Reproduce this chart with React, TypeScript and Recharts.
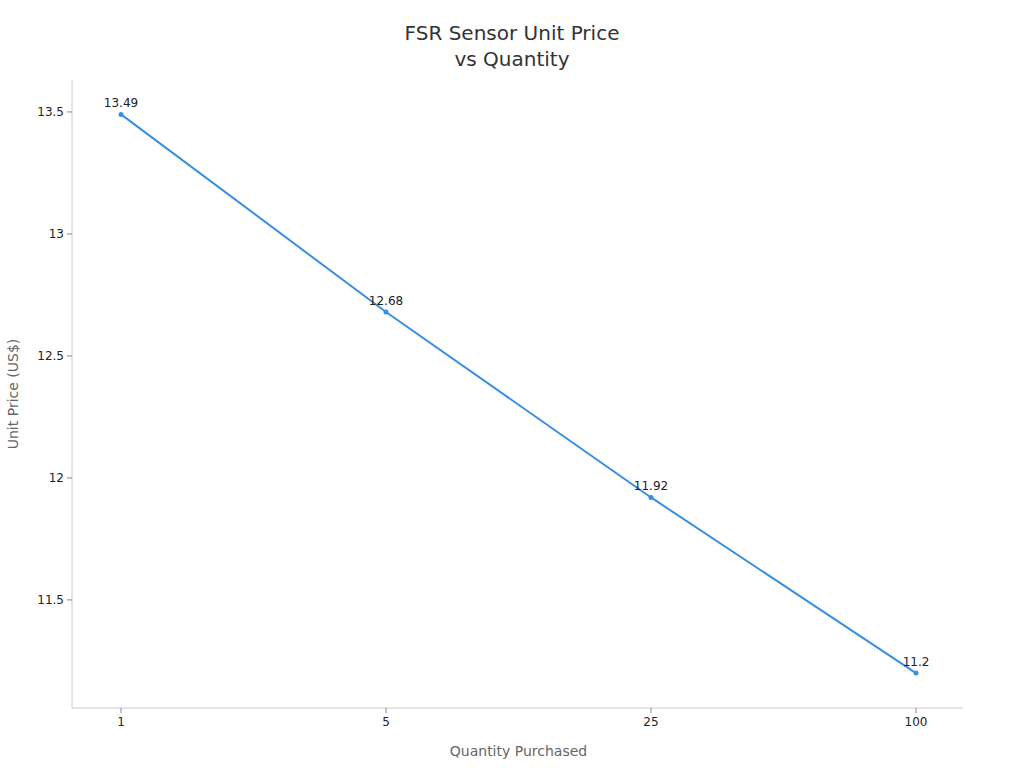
import React from "react";
import { LineChart, Line, XAxis, YAxis, LabelList } from "recharts";

const quantities = ["1", "5", "25", "100"];
const prices = [13.49, 12.68, 11.92, 11.2];
const yTicks = [11.5, 12, 12.5, 13, 13.5];

const data = quantities.map((q, i) => ({ qty: q, price: prices[i] }));

const FONT = "DejaVu Sans, sans-serif";

export default function App() {
  return (
    <div style={{ position: "absolute", left: 0, top: 0, width: 1024, height: 768, fontFamily: FONT, background: "#fff" }}>
      <div
        style={{
          position: "absolute",
          left: 0,
          top: 20,
          width: 1024,
          textAlign: "center",
          fontSize: 20,
          lineHeight: "26px",
          color: "#333",
          fontFamily: FONT,
        }}
      >
        FSR Sensor Unit Price
        <br />
        vs Quantity
      </div>
      <LineChart
        width={1024}
        height={768}
        data={data}
        margin={{ top: 80, right: 61, bottom: 30, left: 12 }}
        style={{ fontFamily: FONT }}
      >
        <XAxis
          dataKey="qty"
          type="category"
          padding={{ left: 49, right: 47 }}
          height={30}
          stroke="#ccc"
          tickSize={5}
          tickMargin={4}
          tick={{ fill: "#222", fontSize: 12 }}
          tickLine={{ stroke: "#888" }}
          label={{ value: "Quantity Purchased", position: "insideBottom", offset: -18, dx: 1, fill: "#666", fontSize: 14 }}
        />
        <YAxis
          type="number"
          domain={[11.057, 13.631]}
          ticks={yTicks}
          width={60}
          stroke="#ccc"
          tickSize={5}
          tickMargin={3}
          tick={{ fill: "#222", fontSize: 12 }}
          tickLine={{ stroke: "#888" }}
          allowDataOverflow
          label={{ value: "Unit Price (US$)", angle: -90, position: "insideLeft", offset: 1, fill: "#666", fontSize: 14, style: { textAnchor: "middle" } }}
        />
        <Line
          type="linear"
          dataKey="price"
          stroke="#3a8ee0"
          strokeWidth={2}
          dot={{ r: 2.5, fill: "#3a8ee0", stroke: "#3a8ee0", strokeWidth: 0 }}
          activeDot={false}
          isAnimationActive={false}
        >
          <LabelList dataKey="price" position="top" offset={7} fill="#222" fontSize={12} />
        </Line>
      </LineChart>
    </div>
  );
}
